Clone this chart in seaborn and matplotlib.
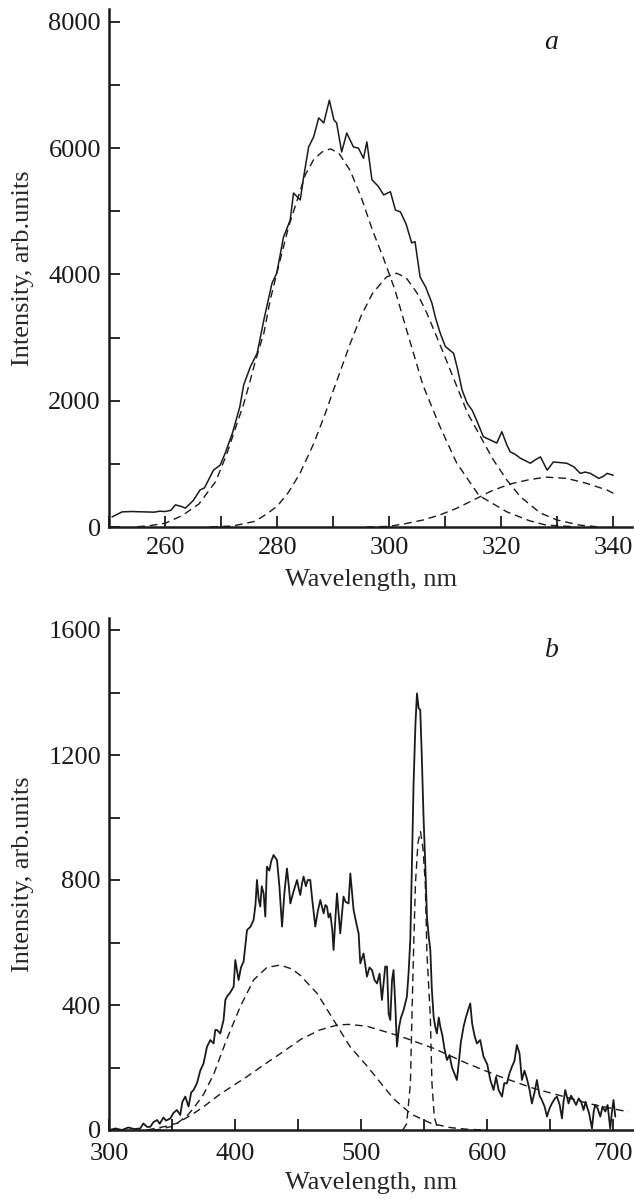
import numpy as np
import matplotlib
matplotlib.use("Agg")
import matplotlib.pyplot as plt
from matplotlib.ticker import MultipleLocator
import seaborn as sns

# ---- panel a: UV band, measured spectrum + three fitted components ----
wl_a = [250.5, 252.3, 254, 256, 258, 259, 260, 261, 261.8, 262.7,
        263.6, 265, 266.2, 267, 268.6, 269.8, 270.7, 272, 273.3, 274,
        275.2, 276.4, 277.6, 279.05, 279.9, 281.1, 282.3, 282.9, 284.1, 284.7,
        285.6, 286.5, 287.4, 288.3, 289.3, 290.1, 290.6, 291.5, 292.4, 293.6,
        294.5, 295.4, 296, 296.9, 298, 299, 300.2, 301.1, 302, 303,
        304, 304.6, 305.5, 306.5, 307.6, 308.3, 309.1, 310, 311.5, 312.2,
        313, 313.9, 314.8, 315.6, 316.8, 318, 319.2, 320.1, 321, 321.6,
        322.5, 323.4, 324.3, 325.2, 326, 327, 328.2, 329.3, 330.5, 331.7,
        333, 334.1, 335, 335.9, 337.4, 338.2, 338.9, 340]
int_a = [160, 240, 245, 240, 235, 250, 245, 265, 350, 330,
         300, 420, 586, 620, 900, 980, 1170, 1490, 1900, 2250,
         2540, 2750, 3280, 3860, 4020, 4590, 4860, 5290, 5180, 5540,
         6020, 6180, 6480, 6400, 6760, 6450, 6400, 5940, 6240, 6020,
         6000, 5840, 6100, 5500, 5400, 5260, 5310, 5020, 4990, 4800,
         4500, 4520, 3960, 3800, 3550, 3300, 3070, 2860, 2750, 2500,
         2170, 1960, 1850, 1690, 1430, 1380, 1330, 1510, 1300, 1190,
         1150, 1090, 1050, 1010, 1060, 1110, 900, 1030, 1020, 1010,
         950, 850, 870, 850, 770, 800, 850, 820]

wl_a_c1 = [255, 257, 260, 263, 266, 269, 271, 272.2, 274, 275.2,
           276, 277.6, 278.75, 280, 282, 284, 285, 286.5, 288, 289.5,
           291, 293, 295, 297, 299, 301, 303, 306, 309, 312,
           316, 321, 325, 328, 333]
int_a_c1 = [5, 18, 60, 180, 365, 720, 1160, 1480, 1950, 2330,
            2600, 3070, 3600, 4050, 4750, 5300, 5580, 5820, 5940, 5990,
            5920, 5650, 5220, 4700, 4250, 3760, 3150, 2250, 1600, 1020,
            500, 240, 100, 30, 5]

wl_a_c2 = [268, 272, 276, 278, 280, 282, 284, 286.5, 288.5, 290,
           291.5, 293, 295, 297, 299.5, 301.3, 303, 305, 306.7, 308.2,
           309.7, 311.5, 314, 316.3, 318.6, 321, 323.4, 327, 330, 334,
           337]
int_a_c2 = [2, 15, 90, 200, 330, 550, 840, 1320, 1780, 2160,
            2530, 2900, 3350, 3700, 3960, 4020, 3950, 3700, 3390, 3070,
            2750, 2350, 1800, 1430, 1060, 745, 480, 220, 110, 30,
            5]

wl_a_c3 = [296, 300, 303, 306, 309, 312, 316, 318, 320, 322,
           325, 328, 331.7, 335.3, 338.9, 340]
int_a_c3 = [0, 10, 55, 110, 190, 295, 470, 560, 630, 690,
            750, 790, 770, 690, 585, 535]

# ---- panel b: visible band ----
wl_b = [300, 305, 310, 315, 320, 324.6, 327, 330, 332.5, 335,
        337.9, 340, 343, 345, 348.4, 351, 353.7, 356.3, 358, 360.3,
        362.9, 365, 366.9, 369.6, 372.2, 374.8, 377.5, 380.2, 382.8, 384.1,
        385.5, 388.1, 390.7, 392.1, 393.4, 396, 398.7, 400, 402.6, 404.5,
        406.6, 409.3, 412, 414.5, 416, 417.2, 418.5, 419.8, 421, 422.5,
        423.8, 425.1, 427, 428.5, 430.4, 432, 433.1, 435, 437.1, 439,
        441, 442.5, 443.7, 446, 449, 450.5, 451.6, 453, 454.2, 456,
        457.5, 459.5, 461, 463.5, 465.5, 467.5, 470.1, 471.5, 472.8, 474,
        475.4, 477, 478, 479.5, 480.7, 483.3, 485.9, 487.5, 489.9, 491.3,
        493.9, 496.6, 497.9, 499.2, 501.8, 504.5, 506.5, 508.5, 510.5, 512.5,
        514.5, 516.4, 519, 520.4, 521.7, 523, 524.4, 525.6, 527, 528.3,
        530, 531.5, 533.6, 536.2, 537.5, 538.9, 540.2, 541.5, 543, 544.2,
        545.5, 546.8, 548, 549.4, 550.8, 552.1, 553.5, 554.8, 556, 557.4,
        558.7, 560, 561.5, 562.7, 564.5, 566, 568, 570, 572, 574,
        575.9, 577.5, 579, 581.2, 583, 584.5, 586.5, 588, 590, 591.8,
        594.4, 597, 600, 602.4, 605, 607, 609, 611.7, 613.5, 615.6,
        617.5, 619.6, 621.5, 623.5, 625.6, 627.5, 629.5, 631.4, 633.5, 635.4,
        637.5, 639.4, 641.5, 643.3, 645.5, 647.4, 649.5, 651.3, 653.5, 655.3,
        657.5, 659.3, 660.5, 661.9, 663, 664.5, 666.5, 668.5, 670.5, 672.5,
        674.5, 676.4, 678, 679.1, 681, 683.1, 684.5, 685.7, 687.5, 689.7,
        691.5, 693.7, 695.5, 697.6, 699, 700.2, 701.6]
int_b = [0, 5, 0, 8, 3, 5, 21, 10, 10, 25,
         32, 20, 40, 30, 37, 55, 64, 48, 90, 107,
         75, 120, 128, 150, 190, 213, 266, 288, 277, 320,
         320, 309, 352, 416, 427, 440, 459, 544, 480, 520,
         539, 640, 650, 672, 720, 800, 740, 715, 780, 757,
         683, 843, 830, 860, 880, 870, 864, 780, 651, 760,
         837, 780, 725, 760, 800, 770, 752, 790, 811, 780,
         800, 800, 740, 651, 700, 736, 693, 720, 715, 680,
         693, 640, 576, 680, 757, 629, 747, 730, 725, 821,
         704, 651, 629, 533, 565, 491, 520, 512, 480, 469,
         500, 416, 523, 523, 373, 352, 480, 512, 400, 267,
         330, 360, 384, 427, 500, 608, 850, 1109, 1300, 1397,
         1350, 1344, 1200, 1003, 850, 683, 620, 576, 450, 363,
         330, 309, 360, 331, 300, 260, 224, 240, 200, 180,
         160, 220, 280, 331, 360, 380, 405, 340, 300, 277,
         288, 235, 210, 160, 128, 170, 128, 107, 150, 149,
         180, 203, 220, 272, 245, 160, 190, 165, 130, 85,
         120, 160, 110, 96, 75, 43, 70, 85, 100, 107,
         80, 37, 90, 128, 110, 85, 110, 96, 80, 101,
         90, 64, 90, 75, 50, 5, 60, 80, 70, 43,
         75, 59, 80, 5, 60, 96, 43]

wl_b_c1 = [335, 340, 351, 361.6, 367, 375, 383, 393, 404, 414.5,
           425, 435.7, 445, 451.6, 465, 478, 491, 504.5, 517.7, 525.6,
           540, 555, 570, 585, 600]
int_b_c1 = [0, 2, 13, 45, 70, 115, 180, 288, 395, 480,
            520, 528, 515, 495, 437, 352, 267, 205, 139, 100,
            50, 22, 8, 2, 0]

wl_b_c2 = [330, 345, 354, 367, 375, 388, 393, 409, 425, 436,
           452, 467, 481, 490, 504.5, 531, 557, 584, 610, 637,
           658, 680, 700, 712]
int_b_c2 = [0, 12, 22, 53, 75, 115, 128, 170, 215, 245,
            290, 320, 336, 338, 332, 300, 262, 213, 171, 133,
            110, 85, 68, 58]

wl_b_c3 = [533, 536, 539, 540.2, 541.5, 543, 545, 547, 549, 550.8,
           552.1, 554.8, 556.1, 558, 561]
int_b_c3 = [0, 20, 149, 363, 576, 790, 920, 955, 900, 789,
            565, 363, 149, 40, 0]

# ---- style ----
sns.set_style("ticks")
plt.rcParams["font.family"] = ["Liberation Serif", "DejaVu Serif"]
INK = "#1a1a1a"
FS = 19


def draw_panel(ax, spectrum, components, letter, lw_main, xpad):
    x, y = spectrum
    sns.lineplot(x=x, y=y, ax=ax, color=INK, linewidth=lw_main,
                 estimator=None, sort=False)
    for cx, cy in components:
        sns.lineplot(x=cx, y=cy, ax=ax, color=INK, linewidth=1.0,
                     estimator=None, sort=False)
        ax.get_lines()[-1].set_dashes((5.5, 3.5))

    sns.despine(ax=ax)
    for side in ["left", "bottom"]:
        ax.spines[side].set_linewidth(1.8)
        ax.spines[side].set_color(INK)
    ax.tick_params(which="both", direction="in", length=8, width=1.3,
                   colors=INK, labelsize=FS)
    ax.tick_params(axis="x", pad=xpad)
    ax.tick_params(axis="y", pad=6)
    ax.set_xlabel("Wavelength, nm", fontsize=FS)
    ax.set_ylabel("Intensity, arb.units", fontsize=FS)
    ax.text(0.845, 0.935, letter, transform=ax.transAxes, fontsize=FS + 1,
            fontstyle="italic", ha="center", va="center", color=INK)


fig = plt.figure(figsize=(6.34, 11.99), dpi=100)
ax_a = fig.add_axes([109.3 / 634, 672 / 1199, 523 / 634, 517.7 / 1199])
ax_b = fig.add_axes([109.3 / 634, 69 / 1199, 524 / 634, 512.5 / 1199])

draw_panel(ax_a, (wl_a, int_a),
           [(wl_a_c1, int_a_c1), (wl_a_c2, int_a_c2), (wl_a_c3, int_a_c3)],
           "a", 1.1, 7)
ax_a.set_xlim(250, 343.4)
ax_a.set_ylim(0, 8200)
ax_a.xaxis.set_major_locator(MultipleLocator(20))
ax_a.xaxis.set_minor_locator(MultipleLocator(10))
ax_a.yaxis.set_major_locator(MultipleLocator(2000))
ax_a.yaxis.set_minor_locator(MultipleLocator(1000))
ax_a.yaxis.set_label_coords(-0.144, 0.5)
ax_a.xaxis.set_label_coords(0.5, -0.081)

draw_panel(ax_b, (wl_b, int_b),
           [(wl_b_c1, int_b_c1), (wl_b_c2, int_b_c2), (wl_b_c3, int_b_c3)],
           "b", 1.3, 9)
ax_b.set_xlim(300, 715.9)
ax_b.set_ylim(0, 1640)
ax_b.xaxis.set_major_locator(MultipleLocator(100))
ax_b.xaxis.set_minor_locator(MultipleLocator(50))
ax_b.yaxis.set_major_locator(MultipleLocator(400))
ax_b.yaxis.set_minor_locator(MultipleLocator(200))
ax_b.yaxis.set_label_coords(-0.1437, 0.5)
ax_b.xaxis.set_label_coords(0.5, -0.082)

fig.savefig("out.png", dpi=100, facecolor="white")
